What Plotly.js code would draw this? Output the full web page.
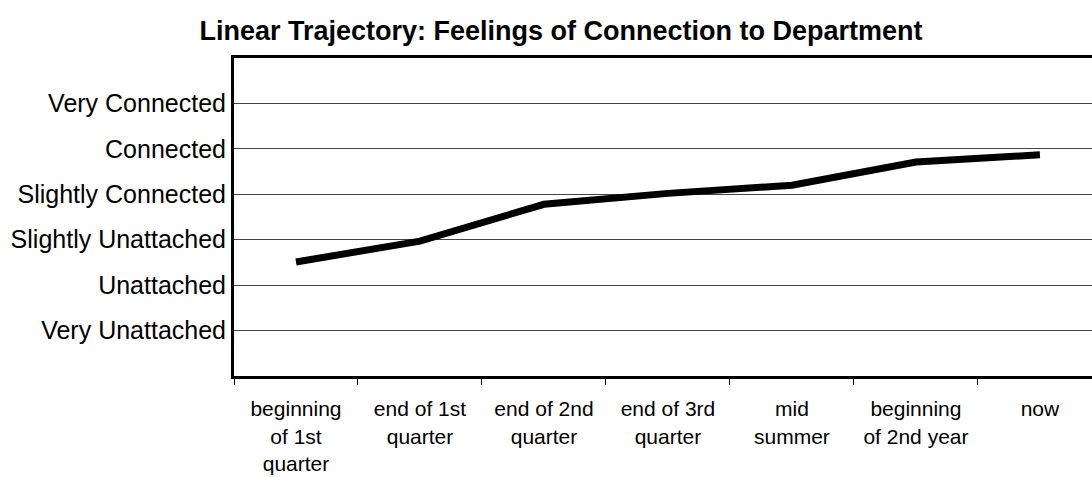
<!DOCTYPE html>
<html>
<head>
<meta charset="utf-8">
<script src="https://cdn.plot.ly/plotly-3.0.1.min.js"></script>
<style>html,body{margin:0;padding:0;background:#fff;}#chart{width:1092px;height:477px;}</style>
</head>
<body>
<div id="chart"></div>
<script>
const categories = [
  "beginning<br>of 1st<br>quarter",
  "end of 1st<br>quarter",
  "end of 2nd<br>quarter",
  "end of 3rd<br>quarter",
  "mid<br>summer",
  "beginning<br>of 2nd year",
  "now"
];
const connectionValues = [2.51, 2.97, 3.78, 4.02, 4.2, 4.71, 4.87];
const levelValues = [1, 2, 3, 4, 5, 6];
const levelLabels = [
  "Very Unattached",
  "Unattached",
  "Slightly Unattached",
  "Slightly Connected",
  "Connected",
  "Very Connected"
];

const font = "'Liberation Sans', Arial, sans-serif";

const trace = {
  type: "scatter",
  mode: "lines",
  x: categories,
  y: connectionValues,
  line: {color: "#000", width: 7},
  hoverinfo: "skip"
};

const layout = {
  width: 1092,
  height: 477,
  paper_bgcolor: "#fff",
  plot_bgcolor: "#fff",
  showlegend: false,
  margin: {l: 234, r: 0, t: 58, b: 101, pad: 0},
  title: {
    text: "<b>Linear Trajectory: Feelings of Connection to Department</b>",
    font: {family: font, size: 27, color: "#000"},
    x: 561 / 1092,
    xanchor: "center",
    xref: "container",
    y: 0.937,
    yanchor: "middle",
    yref: "container"
  },
  xaxis: {
    type: "category",
    range: [-0.5, 6.42],
    showline: true,
    linecolor: "#000",
    linewidth: 3,
    mirror: true,
    showgrid: false,
    ticks: "outside",
    tickson: "boundaries",
    ticklen: 6,
    tickcolor: "#000",
    tickwidth: 1,
    tickfont: {family: font, size: 21, color: "#000"},
    ticklabelstandoff: 12,
    zeroline: false,
    fixedrange: true
  },
  yaxis: {
    range: [0, 7],
    tickmode: "array",
    tickvals: levelValues,
    ticktext: levelLabels,
    showline: true,
    linecolor: "#000",
    linewidth: 3,
    mirror: false,
    showgrid: true,
    gridcolor: "#444",
    gridwidth: 1,
    ticks: "",
    tickfont: {family: font, size: 25, color: "#000"},
    zeroline: false,
    fixedrange: true
  }
};

Plotly.newPlot("chart", [trace], layout, {displayModeBar: false, staticPlot: true});
</script>
</body>
</html>
